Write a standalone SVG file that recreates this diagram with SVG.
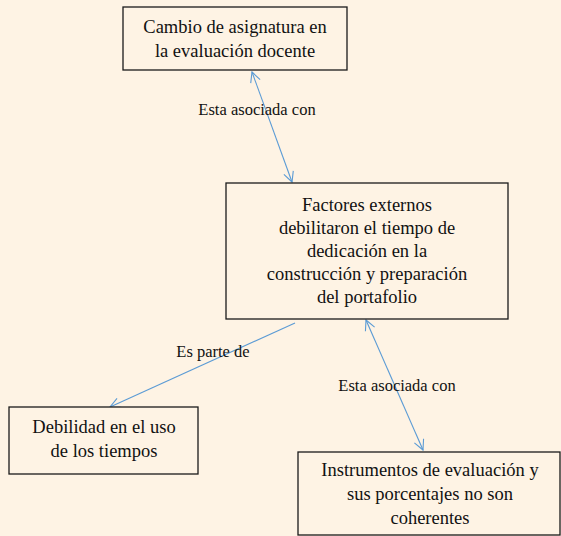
<svg xmlns="http://www.w3.org/2000/svg" width="561" height="536" viewBox="0 0 561 536">
<style>
.bg{fill:#FEF3E4}
.box{fill:#FEF3E4;stroke:#1a1a1a;stroke-width:1.3}
.t{font-family:"Liberation Serif",serif;font-size:18.5px;fill:#111;text-anchor:middle}
.l{font-family:"Liberation Serif",serif;font-size:16.5px;fill:#111;text-anchor:middle}
.c{stroke:#5B9BD5;stroke-width:1.1;fill:none}
</style>
<defs>
<marker id="ah" viewBox="0 0 12 12" refX="11" refY="6" markerWidth="12" markerHeight="12" markerUnits="userSpaceOnUse" orient="auto-start-reverse">
<path d="M1,1 L11,6 L1,11" fill="none" stroke="#5B9BD5" stroke-width="1.1"/>
</marker>
</defs>
<rect class="bg" x="0" y="0" width="561" height="536"/>
<g id="connectors">
<line class="c" x1="252" y1="72" x2="292" y2="182" marker-start="url(#ah)" marker-end="url(#ah)"/>
<line class="c" x1="366" y1="320" x2="423" y2="450" marker-start="url(#ah)" marker-end="url(#ah)"/>
<line class="c" x1="295" y1="323" x2="110" y2="407" marker-end="url(#ah)"/>
<text class="l" x="257" y="115">Esta asociada con</text>
<text class="l" x="213" y="357">Es parte de</text>
<text class="l" x="397" y="391">Esta asociada con</text>
</g>
<g id="n1">
<rect class="box" x="123" y="7" width="224" height="63"/>
<text class="t" x="235" y="33">Cambio de asignatura en</text>
<text class="t" x="235" y="57">la evaluación docente</text>
</g>
<g id="n2">
<rect class="box" x="226" y="183" width="282" height="136"/>
<text class="t" x="367" y="211">Factores externos</text>
<text class="t" x="367" y="234">debilitaron el tiempo de</text>
<text class="t" x="367" y="257">dedicación en la</text>
<text class="t" x="367" y="280">construcción y preparación</text>
<text class="t" x="367" y="303">del portafolio</text>
</g>
<g id="n3">
<rect class="box" x="9" y="407" width="189" height="67"/>
<text class="t" x="104" y="433">Debilidad en el uso</text>
<text class="t" x="104" y="457">de los tiempos</text>
</g>
<g id="n4">
<rect class="box" x="298" y="452" width="262" height="83"/>
<text class="t" x="430" y="476">Instrumentos de evaluación y</text>
<text class="t" x="430" y="500">sus porcentajes no son</text>
<text class="t" x="430" y="524">coherentes</text>
</g>
</svg>
